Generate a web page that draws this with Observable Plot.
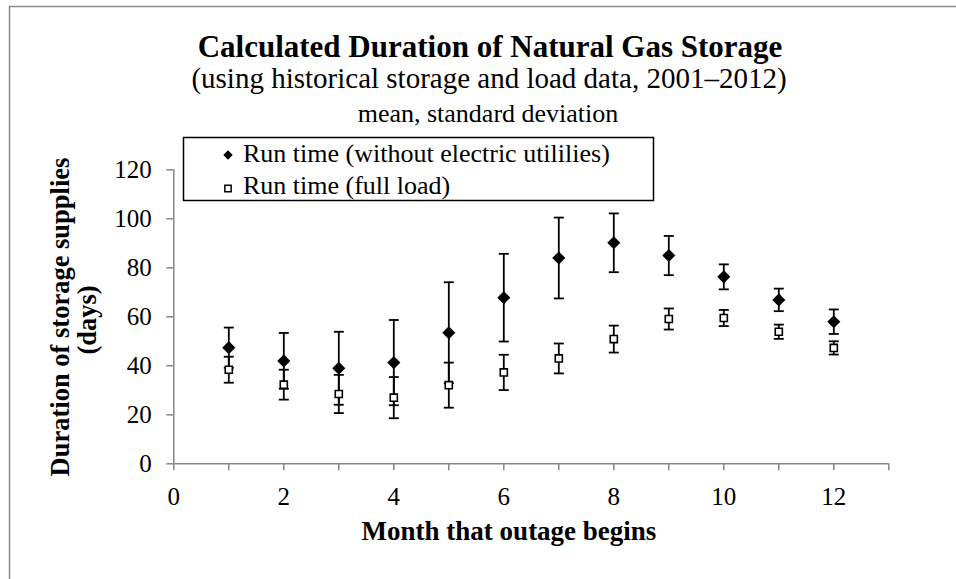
<!DOCTYPE html>
<html><head><meta charset="utf-8">
<script src="https://cdn.jsdelivr.net/npm/d3@7"></script>
<script src="https://cdn.jsdelivr.net/npm/@observablehq/plot@0.6"></script>
<style>
html,body{margin:0;padding:0;background:#fff;overflow:hidden;}
#chart{position:relative;width:956px;height:579px;overflow:hidden;}
#chart svg{display:block;font-family:"Liberation Serif","Times New Roman",serif;}
</style></head><body><div id="chart"></div>
<script>
// ---- data ----
const months = [1, 2, 3, 4, 5, 6, 7, 8, 9, 10, 11, 12];
const meanNoElec = [47.4, 42.0, 39.0, 41.3, 53.5, 67.8, 84.0, 90.2, 85.0, 76.3, 66.9, 58.0];
const sdNoElec   = [8.2, 11.4, 14.9, 17.4, 20.6, 17.9, 16.5, 12.0, 8.0, 5.1, 4.6, 5.0];
const meanFull   = [38.4, 32.3, 28.5, 27.0, 32.1, 37.3, 43.0, 50.9, 59.1, 59.5, 53.9, 47.3];
const sdFull     = [5.3, 6.1, 7.8, 8.4, 9.2, 7.2, 6.1, 5.5, 4.3, 3.3, 2.9, 2.7];
const xTicks = [0, 1, 2, 3, 4, 5, 6, 7, 8, 9, 10, 11, 12, 13];
const xTickLabels = [0, 2, 4, 6, 8, 10, 12];
const yTicks = [0, 20, 40, 60, 80, 100, 120];
const seriesNames = ["Run time (without electric utililies)", "Run time (full load)"];
const titleLines = ["Calculated Duration of Natural Gas Storage",
  "(using historical storage and load data, 2001\u20132012)",
  "mean, standard deviation"];
const xLabel = "Month that outage begins";
const yLabelLines = ["Duration of storage supplies", "(days)"];

// ---- tables ----
const noElec = months.map((m, i) => ({month: m, mean: meanNoElec[i], sd: sdNoElec[i]}));
const full = months.map((m, i) => ({month: m, mean: meanFull[i], sd: sdFull[i]}));

const axisGray = "#878787";
const cap = {draw(context, size) { const r = Math.sqrt(size / Math.PI); context.moveTo(-r, 0); context.lineTo(r, 0); }};

function errorMarks(data) {
  return [
    Plot.ruleX(data, {x: "month", y1: d => d.mean - d.sd, y2: d => d.mean + d.sd, stroke: "black", strokeWidth: 1.8}),
    Plot.dot(data, {x: "month", y: d => d.mean + d.sd, symbol: cap, r: 5, fill: "none", stroke: "black", strokeWidth: 1.8}),
    Plot.dot(data, {x: "month", y: d => d.mean - d.sd, symbol: cap, r: 5, fill: "none", stroke: "black", strokeWidth: 1.8})
  ];
}

const plot = Plot.plot({
  width: 956, height: 579,
  marginLeft: 173.3, marginRight: 67.7, marginTop: 169.3, marginBottom: 115.7,
  x: {type: "linear", domain: [0, 13]},
  y: {type: "linear", domain: [0, 120]},
  style: {fontFamily: "Liberation Serif", fontSize: "25px", color: "black", background: "white", overflow: "visible"},
  marks: [
    Plot.axisX({ticks: xTicks, tickFormat: d => xTickLabels.includes(d) ? String(d) : "", tickSize: 7, tickPadding: 16,
      stroke: axisGray, strokeWidth: 1.5, fill: "black", fontSize: 25, label: null}),
    Plot.axisY({ticks: yTicks, tickSize: 7, tickPadding: 15, stroke: axisGray, strokeWidth: 1.5, fill: "black", fontSize: 25, label: null}),
    Plot.ruleY([0], {stroke: axisGray, strokeWidth: 1.5}),
    Plot.ruleX([0], {stroke: axisGray, strokeWidth: 1.5}),
    ...errorMarks(noElec),
    ...errorMarks(full),
    Plot.dot(noElec, {x: "month", y: "mean", symbol: "diamond2", r: 5.9, fill: "black", stroke: "none"}),
    Plot.dot(full, {x: "month", y: "mean", symbol: "square", r: 4.0, fill: "white", stroke: "black", strokeWidth: 1.6})
  ]
});

document.getElementById("chart").appendChild(plot);

// ---- annotations (titles, axis titles, legend, outer frame) ----
const svg = d3.select(plot);
const ann = svg.append("g").attr("font-family", "Liberation Serif, Times New Roman, serif").attr("fill", "black");

// outer frame (top & left edges visible)
ann.append("path").attr("d", "M9.5,579V6.5H960").attr("fill", "none").attr("stroke", "#8a8a8a").attr("stroke-width", 1.5);

ann.append("text").attr("x", 490).attr("y", 57).attr("text-anchor", "middle").attr("font-size", 31).attr("font-weight", "bold").text(titleLines[0]);
ann.append("text").attr("x", 489).attr("y", 88).attr("text-anchor", "middle").attr("font-size", 29).text(titleLines[1]);
ann.append("text").attr("x", 488).attr("y", 122).attr("text-anchor", "middle").attr("font-size", 26).text(titleLines[2]);

ann.append("text").attr("x", 509).attr("y", 540).attr("text-anchor", "middle").attr("font-size", 27).attr("font-weight", "bold").text(xLabel);

const yl = ann.append("g").attr("transform", "translate(0,317) rotate(-90)");
yl.append("text").attr("x", 0).attr("y", 68.5).attr("text-anchor", "middle").attr("font-size", 26.5).attr("font-weight", "bold").text(yLabelLines[0]);
yl.append("text").attr("x", -3).attr("y", 96).attr("text-anchor", "middle").attr("font-size", 26.5).attr("font-weight", "bold").text(yLabelLines[1]);

// legend
const lg = ann.append("g");
lg.append("rect").attr("x", 183.5).attr("y", 137.5).attr("width", 470).attr("height", 63).attr("fill", "white").attr("stroke", "black").attr("stroke-width", 1.5);
lg.append("path").attr("transform", "translate(228,155)").attr("d", d3.symbol(d3.symbolDiamond2, 56)()).attr("fill", "black");
lg.append("path").attr("transform", "translate(228,188.5)").attr("d", d3.symbol(d3.symbolSquare, 40)()).attr("fill", "white").attr("stroke", "black").attr("stroke-width", 1.5);
lg.append("text").attr("x", 243).attr("y", 162).attr("text-anchor", "start").attr("font-size", 26).text(seriesNames[0]);
lg.append("text").attr("x", 243).attr("y", 193.5).attr("text-anchor", "start").attr("font-size", 26).text(seriesNames[1]);
</script>
</body></html>
